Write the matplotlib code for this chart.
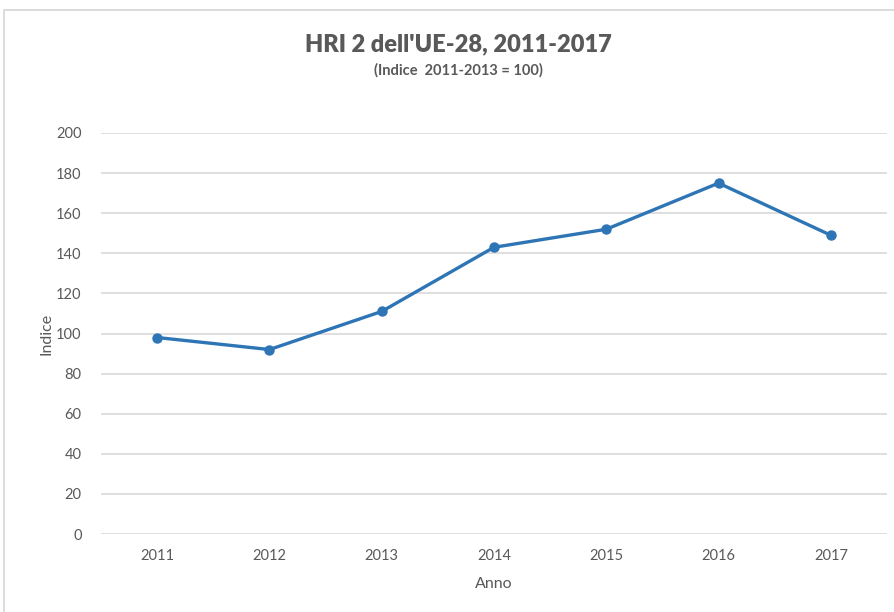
import matplotlib
matplotlib.use("Agg")
import matplotlib.pyplot as plt
from matplotlib.patches import Rectangle

years = ["2011", "2012", "2013", "2014", "2015", "2016", "2017"]
values = [98, 92, 111, 143, 152, 175, 149]
yticks = [0, 20, 40, 60, 80, 100, 120, 140, 160, 180, 200]

plt.rcParams['font.family'] = ['Lato', 'DejaVu Sans']

W, H = 894, 612
fig = plt.figure(figsize=(W / 100, H / 100), dpi=100)
fig.patch.set_facecolor('white')

# outer chart border
fig.patches.append(Rectangle((4 / W, -0.05), 1.1, 1 - 10 / H + 0.05,
                             transform=fig.transFigure, fill=False,
                             edgecolor='#d9d9d9', linewidth=1.3))

ax = fig.add_axes([101 / W, 1 - 534 / H, (887 - 101) / W, (534 - 133) / H])
x = list(range(len(years)))
ax.plot(x, values, color='#2E75B6', linewidth=2.4, marker='o',
        markersize=6.5, markerfacecolor='#2E75B6', markeredgecolor='#2E75B6',
        zorder=3)
ax.set_xlim(-0.5, len(years) - 0.5)
ax.set_ylim(0, 200)
ax.set_yticks(yticks)
ax.set_xticks(x)
ax.set_xticklabels(years)
ax.grid(axis='y', color='#d9d9d9', linewidth=1.2)
ax.set_axisbelow(True)
for s in ax.spines.values():
    s.set_visible(False)
ax.tick_params(axis='both', length=0, colors='#595959', labelsize=10.5)
ax.tick_params(axis='y', pad=14)
ax.tick_params(axis='x', pad=11)
ax.set_xlabel('Anno', color='#595959', fontsize=11.5, labelpad=10)
ax.set_ylabel('Indice', color='#595959', fontsize=11.5, labelpad=2)

fig.text(458 / W, 1 - 44 / H, "HRI 2 dell'UE-28, 2011-2017", ha='center',
         va='center', fontsize=17, fontweight='heavy', color='#595959')
fig.text(458 / W, 1 - 70 / H, "(Indice  2011-2013 = 100)", ha='center',
         va='center', fontsize=10.5, fontweight='bold', color='#595959')

fig.savefig('out.png', dpi=100, facecolor='white')
